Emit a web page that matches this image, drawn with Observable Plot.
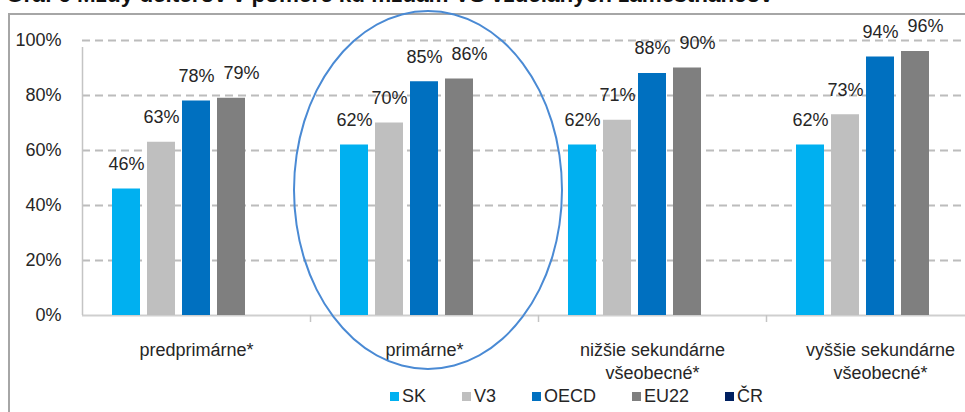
<!DOCTYPE html>
<html>
<head>
<meta charset="utf-8">
<script src="https://cdn.jsdelivr.net/npm/d3@7"></script>
<script src="https://cdn.jsdelivr.net/npm/@observablehq/plot@0.6"></script>
<style>
  html, body { margin: 0; padding: 0; background: #fff; }
  body { width: 965px; height: 412px; overflow: hidden; position: relative; font-family: "Liberation Sans", Arial, sans-serif; color: #262626; }
  #title { position: absolute; left: 6px; top: -17px; font-size: 19px; font-weight: bold; white-space: nowrap; color: #111; }
  #frame { position: absolute; left: 8px; top: 13px; width: 1000px; height: 420px; border-left: 2px solid #a6a6a6; border-top: 2px solid #a6a6a6; box-sizing: border-box; }
  #chart { position: absolute; left: 0; top: 0; }
  #ellipse { position: absolute; left: 293px; top: 10px; width: 270px; height: 360px; border: 2px solid #4a8ad4; border-radius: 50%; box-sizing: border-box; pointer-events: none; }
  #legend { position: absolute; left: 390px; top: 386px; display: flex; align-items: center; gap: 36px; font-size: 18px; }
  #legend .item { display: flex; align-items: center; }
  #legend .sw { width: 9px; height: 9px; margin-right: 3px; }
</style>
</head>
<body>
<div id="title">Graf 6 Mzdy učiteľov v pomere ku mzdám VŠ vzdelaných zamestnancov</div>
<div id="frame"></div>
<div id="chart"></div>
<div id="ellipse"></div>
<div id="legend"></div>
<script>
const categories = ["predprimárne*", "primárne*", "nižšie sekundárne\nvšeobecné*", "vyššie sekundárne\nvšeobecné*"];
const series = ["SK", "V3", "OECD", "EU22", "ČR"];
const seriesColors = ["#00b0f0", "#bfbfbf", "#0070c0", "#7f7f7f", "#002060"];
const valuesSK = [46, 62, 62, 62];
const valuesV3 = [63, 70, 71, 73];
const valuesOECD = [78, 85, 88, 94];
const valuesEU22 = [79, 86, 90, 96];
const valuesCR = [null, null, null, null];
const yTicks = [0, 20, 40, 60, 80, 100];

const seriesValues = [valuesSK, valuesV3, valuesOECD, valuesEU22, valuesCR];
const rows = [];
seriesValues.forEach((vals, j) => {
  vals.forEach((v, i) => {
    if (v != null) rows.push({cat: categories[i], i, series: series[j], j, value: v});
  });
});

// layout within a category (in category units)
const step = 35 / 228;
const barW = 28 / 228;
const center = d => d.i + (d.j - (series.length - 1) / 2) * step;

const chart = Plot.plot({
  width: 1000,
  height: 380,
  marginLeft: 82,
  marginRight: 6,
  marginTop: 40,
  marginBottom: 65,
  style: {background: "transparent", maxWidth: "none", overflow: "visible", fontFamily: "Liberation Sans, Arial, sans-serif", color: "#262626"},
  x: {domain: [-0.5, categories.length - 0.5], axis: null},
  y: {domain: [0, 100], axis: null},
  color: {domain: series, range: seriesColors},
  marks: [
    Plot.ruleY(yTicks.filter(t => t > 0), {stroke: "#bcbcbc", strokeWidth: 2, strokeDasharray: "8,5"}),
    Plot.ruleY([0], {stroke: "#cfcfcf", strokeWidth: 2}),
    Plot.ruleX([-0.5], {y1: 0, y2: 100, stroke: "#c4c4c4", strokeWidth: 1.5, insetBottom: -7}),
    Plot.ruleX(d3.range(categories.length).map(i => i + 0.5), {y1: 0, y2: 0, stroke: "#c4c4c4", strokeWidth: 1.5, insetBottom: -7}),
    Plot.rectY(rows, {x1: d => center(d) - barW / 2, x2: d => center(d) + barW / 2, y1: 0, y2: "value", fill: "series"}),
    Plot.text(rows.filter(d => d.series !== "EU22"), {x: center, y: "value", text: d => d.value + "%", dy: -25, fontSize: 18, fill: "#262626"}),
    Plot.text(rows.filter(d => d.series === "EU22"), {x: center, y: "value", text: d => d.value + "%", dy: -25, dx: 10, fontSize: 18, fill: "#262626"}),
    Plot.text(categories, {x: (d, i) => i, frameAnchor: "bottom", lineAnchor: "top", dy: 24, lineHeight: 1.28, fontSize: 18, fill: "#262626"}),
    Plot.axisY({ticks: yTicks, tickFormat: d => d + "%", tickSize: 0, tickPadding: 21, fontSize: 18, fill: "#262626", label: null})
  ]
});
document.getElementById("chart").appendChild(chart);

// fit title width to the reference span
const title = document.getElementById("title");
const targetW = 767;
const w = title.getBoundingClientRect().width;
if (w > 0) title.style.fontSize = (19 * targetW / w).toFixed(2) + "px";
title.style.top = (4 - 0.9 * parseFloat(title.style.fontSize || 19) - 0.1 * parseFloat(title.style.fontSize || 19)) + "px";

const legend = document.getElementById("legend");
series.forEach((s, j) => {
  const item = document.createElement("div");
  item.className = "item";
  const sw = document.createElement("span");
  sw.className = "sw";
  sw.style.background = seriesColors[j];
  const lab = document.createElement("span");
  lab.textContent = s;
  item.appendChild(sw);
  item.appendChild(lab);
  legend.appendChild(item);
});
</script>
</body>
</html>
